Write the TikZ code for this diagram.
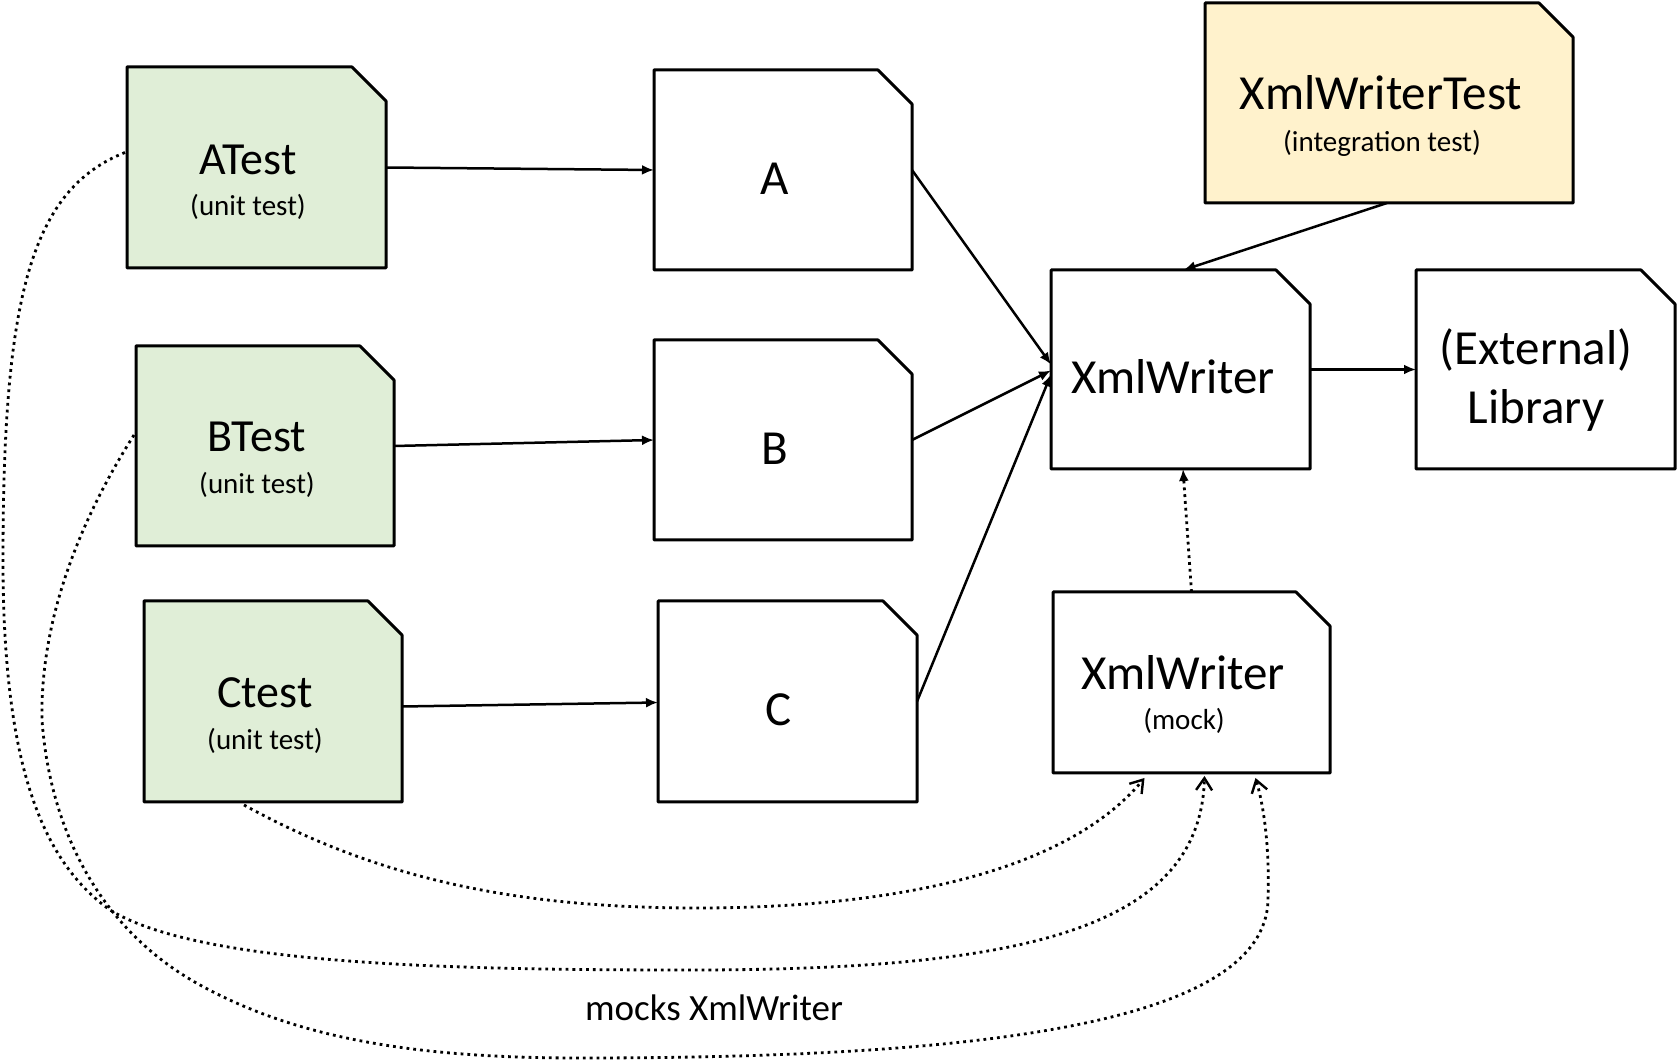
\documentclass[tikz,border=0pt]{standalone}
\usepackage{fontspec}
\setmainfont{Carlito}
\usetikzlibrary{arrows.meta,calc,fit}
\definecolor{testgreen}{RGB}{224,238,215}
\definecolor{testyellow}{RGB}{255,242,204}
\tikzset{
  boxfit/.style={inner sep=0pt, outer sep=0pt},
  chamf/.style={draw=black, line width=1.5pt, line join=round},
  bigtitle/.style={anchor=base, inner sep=0pt, font=\fontsize{24.5pt}{29pt}\selectfont},
  testtitle/.style={anchor=base, inner sep=0pt, font=\fontsize{23pt}{27pt}\selectfont},
  subtitle/.style={anchor=base, inner sep=0pt, font=\fontsize{14.5pt}{17pt}\selectfont},
  solidarrow/.style={line width=1.25pt, -{Latex[length=6pt,width=5pt]}},
  dotline/.style={line width=1.4pt, dash pattern=on 1.4pt off 2pt},
  mockarrow/.style={dotline, -{Straight Barb[length=6pt,width=8pt,line width=1.2pt]}},
}
\newcommand\chambox[4]{%
  \node[boxfit, fit={#2 #3}] (#1) {};
  \path[chamf, fill=#4] (#1.south west) -- (#1.north west) -- ($(#1.north east)+(-34,0)$) -- ($(#1.north east)+(0,34)$) -- (#1.south east) -- cycle;
}
\begin{document}
\begin{tikzpicture}[x=0.5pt,y=-0.5pt]
\useasboundingbox (0,0) rectangle (1678,1063);

% boxes
\chambox{AT}{(127,67)}{(386,268)}{testgreen}
\chambox{BT}{(136,346)}{(394,546)}{testgreen}
\chambox{CT}{(144,601)}{(402,802)}{testgreen}
\chambox{A}{(654,70)}{(912,270)}{white}
\chambox{B}{(654,340)}{(912,540)}{white}
\chambox{C}{(658,601)}{(917,802)}{white}
\chambox{XW}{(1051,270)}{(1310,469)}{white}
\chambox{EX}{(1416,270)}{(1675,469)}{white}
\chambox{XWT}{(1205,3)}{(1573,203)}{testyellow}
\chambox{MK}{(1053,592)}{(1330,773)}{white}

% texts
\node[testtitle] (ATt) at (248,175) {ATest};
\node[subtitle] (ATs) at (248,216) {(unit test)};
\node[testtitle] (BTt) at (257,452) {BTest};
\node[subtitle] (BTs) at (257,494) {(unit test)};
\node[testtitle] (CTt) at (265,708) {Ctest};
\node[subtitle] (CTs) at (265,750) {(unit test)};
\node[bigtitle] (At) at (775,195) {A};
\node[bigtitle] (Bt) at (775,465) {B};
\node[bigtitle] (Ct) at (779,726) {C};
\node[bigtitle] (XWt) at (1173,394) {XmlWriter};
\node[bigtitle] (EXt1) at (1536,365) {(External)};
\node[bigtitle] (EXt2) at (1536,424) {Library};
\node[bigtitle] (XWTt) at (1381,110) {XmlWriterTest};
\node[subtitle] (XWTs) at (1382,152) {(integration test)};
\node[bigtitle] (MKt) at (1183,690) {XmlWriter};
\node[subtitle] (MKs) at (1184,730) {(mock)};
\node[anchor=base, inner sep=0pt, font=\fontsize{18.5pt}{22pt}\selectfont] (lbl) at (714,1021) {mocks XmlWriter};

% solid connectors
\draw[solidarrow] (AT.east) -- (A.west);
\draw[solidarrow] (BT.east) -- (B.west);
\draw[solidarrow] ($(CT.east)+(0,5)$) -- ($(C.west)+(0,1)$);
\draw[solidarrow] (A.east) -- ($(XW.west)+(0,-5)$);
\draw[solidarrow] (B.east) -- ($(XW.west)+(0,1)$);
\draw[solidarrow] (C.east) -- ($(XW.west)+(0,5)$);
\draw[solidarrow] ($(XWT.south)+(-2,0)$) -- ($(XW.north)+(3,0)$);
\draw[solidarrow] (XW.east) -- (EX.west);

% mock -> XmlWriter
\draw[dotline, -{Latex[length=6pt,width=5pt]}] (MK.north) -- ($(XW.south)+(2.5,0)$);

% mocks curves
\draw[mockarrow] ($(CT.south)+(-29,3)$) .. controls (380,880) and (520,908) .. (697,908)
  .. controls (870,908) and (1060,880) .. ($(MK.south)+(-47,5)$);
\draw[mockarrow] ($(AT.west)+(-2,-15)$) .. controls (30,190) and (3,300) .. (3,560)
  .. controls (3,760) and (40,860) .. (110,910)
  .. controls (200,965) and (450,970) .. (690,970)
  .. controls (1020,970) and (1200,930) .. ($(MK.south)+(13,3)$);
\draw[mockarrow] ($(BT.west)+(-2,-11)$) .. controls (80,520) and (40,620) .. (42,720)
  .. controls (50,830) and (100,930) .. (200,985)
  .. controls (300,1040) and (420,1058) .. (580,1058)
  .. controls (950,1058) and (1265,1030) .. (1268,900)
  .. controls (1270,840) and (1262,800) .. ($(MK.south)+(64,5)$);
\end{tikzpicture}
\end{document}
